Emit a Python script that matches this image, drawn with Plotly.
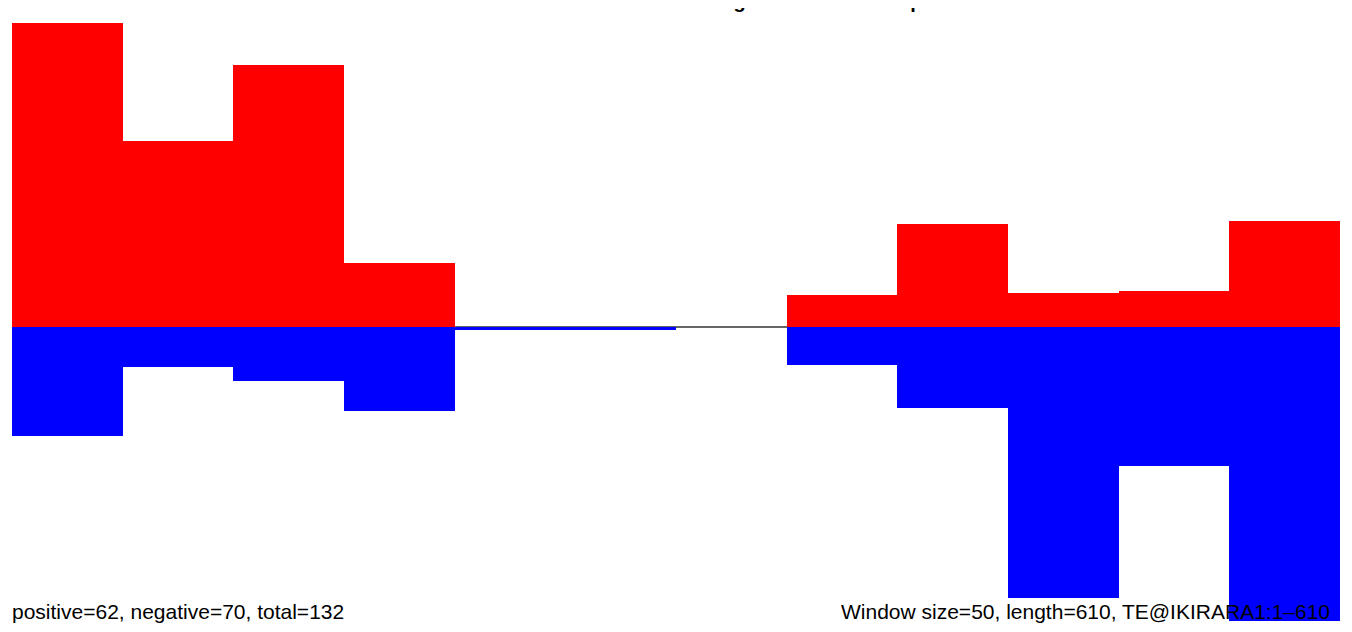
import plotly.graph_objects as go

# sliding windows of 50 bp along TE@IKIRARA1 (1-610)
window_size = 50
window_starts = [0, 50, 100, 150, 200, 250, 300, 350, 400, 450, 500, 550]

# read signal per window, positive strand (up) and negative strand (down)
positive = [30.4, 18.6, 26.2, 6.4, 0, 0, 0, 3.2, 10.3, 3.4, 3.6, 10.6]
negative = [10.9, 4.0, 5.4, 8.4, 0.25, 0.25, 0, 3.8, 8.1, 27.1, 13.9, 29.4]

n_pos, n_neg = 62, 70
seq_len = 610
seq_name = "TE@IKIRARA1:1\u2013610"
titulo = "Sense and antisense reads along each window map"

centros = [s + window_size / 2 for s in window_starts]

fig = go.Figure()

fig.add_trace(go.Bar(
    x=centros, y=positive, width=window_size,
    marker=dict(color='#FF0000', line=dict(width=0)),
    name='positive', hoverinfo='x+y'
))

fig.add_trace(go.Bar(
    x=centros, y=[-v for v in negative], width=window_size,
    marker=dict(color='#0000FF', line=dict(width=0)),
    name='negative', hoverinfo='x+y'
))

fonte = "Liberation Sans, Arial, sans-serif"

# the page body has an 8px margin, so the figure is sized/shifted to fit
fig.update_layout(
    barmode='overlay',
    bargap=0,
    showlegend=False,
    plot_bgcolor='white',
    paper_bgcolor='white',
    width=1344, height=624,
    margin=dict(l=4, r=12, t=15, b=11, pad=0),
    xaxis=dict(range=[0, window_size * len(window_starts)], visible=False,
               showgrid=False, zeroline=False),
    yaxis=dict(range=[-max(negative), max(positive)], showgrid=False,
               showticklabels=False, ticks='', showline=False,
               zeroline=True, zerolinecolor='#666666', zerolinewidth=1.5),
    font=dict(family=fonte, color='black'),
    annotations=[
        dict(text=f"<b>{titulo}</b>", xref='paper', yref='paper',
             x=0.5, y=1.015, xanchor='center', yanchor='bottom',
             showarrow=False, font=dict(size=20, family=fonte, color='black')),
        dict(text=f"positive={n_pos}, negative={n_neg}, total={n_pos + n_neg}",
             xref='paper', yref='paper', x=-0.0015, y=0.016,
             xanchor='left', yanchor='middle', showarrow=False,
             font=dict(size=21, family=fonte, color='black')),
        dict(text=f"Window size={window_size}, length={seq_len}, {seq_name}",
             xref='paper', yref='paper', x=0.994, y=0.016,
             xanchor='right', yanchor='middle', showarrow=False,
             font=dict(size=21, family=fonte, color='black')),
    ],
)

fig.write_html("out.html")
